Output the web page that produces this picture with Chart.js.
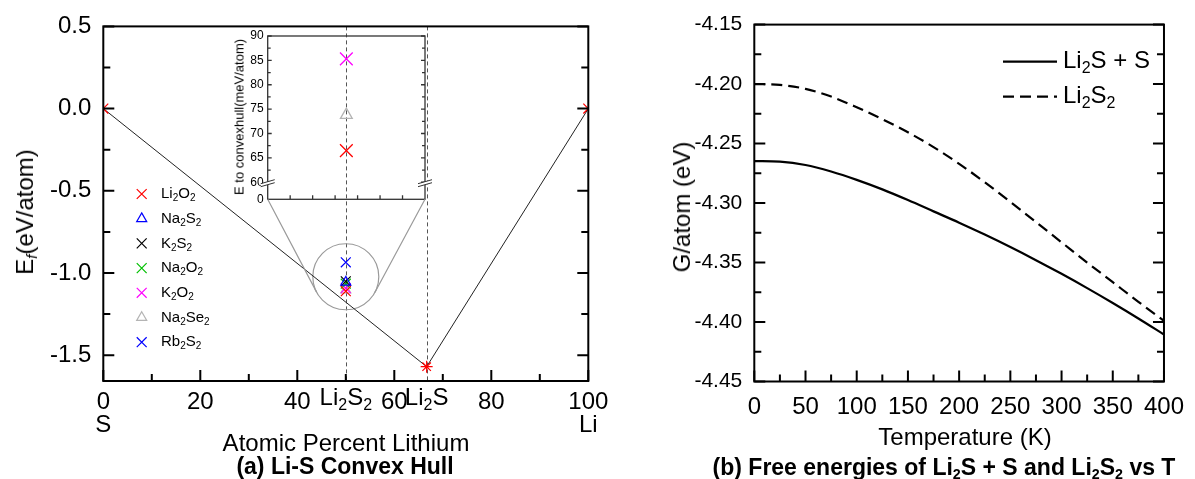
<!DOCTYPE html>
<html>
<head>
<meta charset="utf-8">
<title>Li-S convex hull and free energies</title>
<script src="https://cdn.jsdelivr.net/npm/chart.js@4.4.1/dist/chart.umd.min.js"></script>
<style>
  body { margin: 0; background: #fff; }
  #page { position: relative; width: 1195px; height: 479px; overflow: hidden;
          font-family: "Liberation Sans", Arial, sans-serif; color: #000; }
  canvas { position: absolute; top: 0; }
  .txt { position: absolute; white-space: nowrap; line-height: 1; transform: translate(-50%, -50%); }
  .rot { transform: translate(-50%, -50%) rotate(-90deg); }
  .cap { font-weight: bold; font-size: 23px; }
  sub { font-size: 0.62em; position: relative; top: 0.3em; vertical-align: baseline; line-height: 0; }
</style>
</head>
<body>
<div id="page">
  <canvas id="hull" width="640" height="479" style="left:0"></canvas>
  <canvas id="inset" width="640" height="479" style="left:0"></canvas>
  <canvas id="energy" width="555" height="479" style="left:640px"></canvas>

  <div class="txt rot" style="left:25px;top:212px;font-size:24px">E<sub><i>f</i></sub>(eV/atom)</div>
  <div class="txt" style="left:346px;top:443px;font-size:24px">Atomic Percent Lithium</div>
  <div class="txt cap" style="left:345px;top:466px">(a) Li-S Convex Hull</div>
  <div class="txt rot" style="left:239px;top:117px;font-size:13px">E to convexhull(meV/atom)</div>

  <div class="txt rot" style="left:682px;top:207px;font-size:24px">G/atom (eV)</div>
  <div class="txt" style="left:965px;top:437px;font-size:24px">Temperature (K)</div>
  <div class="txt cap" style="left:944px;top:467px">(b) Free energies of Li<sub>2</sub>S + S and Li<sub>2</sub>S<sub>2</sub> vs T</div>
</div>

<script>
const FONT = '"Liberation Sans", Arial, sans-serif';
Chart.defaults.font.family = FONT;
Chart.defaults.color = '#000';
Chart.defaults.animation = false;

// (a) Li-S convex hull, x = atomic percent Li
const hullX = [0, 66.67, 100];
const hullE = [0, -1.57, 0];            // S, Li2S, Li (eV/atom)
const compoundX = [50, 66.67];
const compoundNames = ['Li2S2', 'Li2S'];
const pctTicks = [0, 20, 40, 60, 80, 100];
const endNames = ['S', 'Li'];

// Li2S2 computed in other prototype structures (x = 50)
const protoNames = ['Li2O2', 'Na2S2', 'K2S2', 'Na2O2', 'K2O2', 'Na2Se2', 'Rb2S2'];
const protoE = [-1.111, -1.056, -1.051, -1.065, -1.0925, -1.104, -0.935];
const protoColor = ['#ff0000', '#0000ff', '#000000', '#00c000', '#ff00ff', '#b4b4b4', '#0000ff'];
const protoShape = ['crossRot', 'triangle', 'crossRot', 'crossRot', 'crossRot', 'triangle', 'crossRot'];

// inset: energy above the hull (meV/atom)
const insetNames = ['Li2O2', 'Na2Se2', 'K2O2'];
const insetMeV = [66.5, 73.8, 85.3];
const insetTicks = [60, 65, 70, 75, 80, 85, 90];

// (b) free energy vs temperature
const temps = [0, 25, 50, 75, 100, 125, 150, 175, 200, 225, 250, 275, 300, 325, 350, 375, 400];
const gLi2S_S = [-4.2647, -4.2652, -4.2680, -4.2735, -4.2805, -4.2885, -4.2975, -4.3070, -4.3165,
                 -4.3265, -4.3370, -4.3480, -4.3595, -4.3715, -4.3840, -4.3970, -4.4105];
const gLi2S2 = [-4.2000, -4.2007, -4.2040, -4.2105, -4.2195, -4.2295, -4.2405, -4.2530, -4.2670,
                -4.2825, -4.2990, -4.3160, -4.3330, -4.3500, -4.3665, -4.3830, -4.3990];

// text with digits drawn as subscripts
function drawChem(ctx, text, x, y, size, align) {
  const parts = text.match(/\d+|\D+/g);
  const sub = Math.round(size * 0.65);
  let w = 0;
  parts.forEach(p => {
    ctx.font = (/\d/.test(p) ? sub : size) + 'px ' + FONT;
    w += ctx.measureText(p).width;
  });
  let cx = align === 'center' ? x - w / 2 : x;
  ctx.textAlign = 'left';
  ctx.textBaseline = 'middle';
  parts.forEach(p => {
    const s = /\d/.test(p);
    ctx.font = (s ? sub : size) + 'px ' + FONT;
    ctx.fillText(p, cx, s ? y + size * 0.3 : y);
    cx += ctx.measureText(p).width;
  });
}

function stepValues(min, max, minor, major) {
  const out = [], ratio = Math.round(major / minor);
  for (let i = Math.ceil(min / minor - 1e-6); i * minor <= max + 1e-6; i++) {
    out.push([i * minor, i % ratio === 0]);
  }
  return out;
}

// frame with inward ticks on left, right and bottom
function boxTicks(cfg) {
  return {
    id: 'boxTicks',
    afterDatasetsDraw(chart) {
      const {ctx, chartArea: a, scales: {x, y}} = chart;
      ctx.save();
      ctx.strokeStyle = '#000';
      ctx.lineWidth = cfg.width;
      ctx.beginPath();
      stepValues(y.min, y.max, cfg.yMinor, cfg.yMajor).forEach(([v, major]) => {
        const p = y.getPixelForValue(v), l = major ? cfg.major : cfg.minor;
        ctx.moveTo(a.left, p); ctx.lineTo(a.left + l, p);
        ctx.moveTo(a.right, p); ctx.lineTo(a.right - l, p);
      });
      stepValues(x.min, x.max, cfg.xMinor, cfg.xMajor).forEach(([v, major]) => {
        const p = x.getPixelForValue(v), l = major ? cfg.major : cfg.minor;
        ctx.moveTo(p, a.bottom); ctx.lineTo(p, a.bottom - l);
      });
      ctx.stroke();
      ctx.strokeRect(a.left, a.top, a.right - a.left, a.bottom - a.top);
      ctx.restore();
    }
  };
}

const noGrid = {display: false, drawTicks: false};

// ---------- (a) main hull chart ----------
const hullDatasets = [];
hullDatasets.push({
  label: 'hull',
  data: hullX.map((x, i) => ({x, y: hullE[i]})),
  showLine: true,
  borderColor: '#222',
  borderWidth: 1,
  pointStyle: ['crossRot', 'star', 'crossRot'],
  pointRadius: [7, 6, 7],
  pointBorderColor: '#ff0000',
  pointBorderWidth: 1.2,
  pointBackgroundColor: 'rgba(0,0,0,0)',
  clip: 0
});
protoNames.forEach((name, i) => {
  hullDatasets.push({
    label: name,
    data: [{x: compoundX[0], y: protoE[i]}],
    pointStyle: protoShape[i],
    pointRadius: protoShape[i] === 'triangle' ? 5.8 : 7,
    pointBorderColor: protoColor[i],
    pointBorderWidth: 1.2,
    pointBackgroundColor: 'rgba(0,0,0,0)'
  });
});
// zoom circle around the Li2S2 cluster
hullDatasets.push({
  label: 'zoom',
  data: [{x: compoundX[0], y: (Math.max(...protoE) + Math.min(...protoE)) / 2}],
  pointStyle: 'circle',
  pointRadius: 33,
  pointBorderColor: '#9a9a9a',
  pointBorderWidth: 1.2,
  pointBackgroundColor: 'rgba(0,0,0,0)'
});

const hullExtras = {
  id: 'hullExtras',
  beforeDatasetsDraw(chart) {
    const {ctx, chartArea: a, scales: {x}} = chart;
    ctx.save();
    ctx.strokeStyle = '#555';
    ctx.lineWidth = 1;
    ctx.setLineDash([4, 3]);
    ctx.beginPath();
    compoundX.forEach(v => {
      const p = Math.round(x.getPixelForValue(v)) + 0.5;
      ctx.moveTo(p, a.top); ctx.lineTo(p, a.bottom);
    });
    ctx.stroke();
    ctx.restore();
  },
  afterDraw(chart) {
    const {ctx, chartArea: a, scales: {x}} = chart;
    ctx.save();
    ctx.fillStyle = '#000';
    compoundNames.forEach((n, i) => drawChem(ctx, n, x.getPixelForValue(compoundX[i]), a.bottom + 17, 24, 'center'));
    // legend
    protoNames.forEach((n, i) => {
      const yy = 194 + i * 24.7;
      ctx.strokeStyle = protoColor[i];
      ctx.fillStyle = 'rgba(0,0,0,0)';
      ctx.lineWidth = 1.2;
      Chart.helpers.drawPoint(ctx, {pointStyle: protoShape[i], radius: protoShape[i] === 'triangle' ? 5.8 : 7,
        borderWidth: 1.2, rotation: 0}, 141.7, yy);
      ctx.fillStyle = '#000';
      drawChem(ctx, n, 161, yy, 15, 'left');
    });
    ctx.restore();
  }
};

const hullChart = new Chart(document.getElementById('hull'), {
  type: 'scatter',
  data: {datasets: hullDatasets},
  options: {
    responsive: false,
    layout: {autoPadding: false, padding: {left: 0, top: 24.5, right: 51.7, bottom: 0}},
    plugins: {legend: {display: false}, tooltip: {enabled: false}},
    scales: {
      x: {
        type: 'linear', min: 0, max: 100,
        grid: noGrid, border: {display: false},
        afterFit: s => { s.height = 98; },
        afterBuildTicks: s => { s.ticks = pctTicks.map(v => ({value: v})); },
        ticks: {
          font: {size: 24, lineHeight: 0.95}, padding: 10, maxRotation: 0, autoSkip: false,
          callback: v => v === pctTicks[0] ? [String(v), endNames[0]]
            : v === pctTicks[pctTicks.length - 1] ? [String(v), endNames[1]] : String(v)
        }
      },
      y: {
        type: 'linear', min: -1.657, max: 0.5,
        grid: noGrid, border: {display: false},
        afterFit: s => { s.width = 103.3; },
        ticks: {font: {size: 24}, padding: 12, stepSize: 0.5, includeBounds: false,
          callback: v => v.toFixed(1)}
      }
    }
  },
  plugins: [hullExtras, boxTicks({width: 2, major: 11, minor: 7, xMajor: 20, xMinor: 10, yMajor: 0.5, yMinor: 0.25})]
});

// ---------- inset ----------
const insetLeft = 267.7, insetRight = 425, insetTop = 36, insetBottom = 199.3;
const insetExtras = {
  id: 'insetExtras',
  afterDraw(chart) {
    const {ctx, chartArea: a, scales: {x, y}} = chart;
    ctx.save();
    ctx.strokeStyle = '#333';
    ctx.lineWidth = 1.3;
    ctx.beginPath();
    stepValues(60, 90, 2.5, 5).forEach(([v, major]) => {
      const p = y.getPixelForValue(v), l = major ? 4 : 3;
      ctx.moveTo(a.left, p); ctx.lineTo(a.left + l, p);
      ctx.moveTo(a.right, p); ctx.lineTo(a.right - l, p);
    });
    for (let i = 1; i < 7; i++) {
      const p = x.getPixelForValue(x.min + i * (x.max - x.min) / 7);
      ctx.moveTo(p, a.bottom); ctx.lineTo(p, a.bottom - 4);
    }
    ctx.stroke();
    ctx.strokeRect(a.left, a.top, a.right - a.left, a.bottom - a.top);
    // axis breaks
    const pb = y.getPixelForValue(59.6);
    [a.left, a.right].forEach(x0 => {
      ctx.fillStyle = '#fff';
      ctx.beginPath();
      ctx.moveTo(x0 - 7, pb + 2.5); ctx.lineTo(x0 + 7, pb - 1.5);
      ctx.lineTo(x0 + 7, pb - 4.5); ctx.lineTo(x0 - 7, pb - 0.5); ctx.closePath();
      ctx.fill();
      ctx.beginPath();
      ctx.moveTo(x0 - 7, pb + 2.5); ctx.lineTo(x0 + 7, pb - 1.5);
      ctx.moveTo(x0 - 7, pb - 0.5); ctx.lineTo(x0 + 7, pb - 4.5);
      ctx.lineWidth = 1;
      ctx.stroke();
    });
    // connectors to the zoom circle
    const circ = hullChart.getDatasetMeta(hullDatasets.length - 1).data[0];
    const r = circ.options.radius;
    ctx.strokeStyle = '#9a9a9a';
    ctx.lineWidth = 1.2;
    ctx.beginPath();
    [[a.left, -1], [a.right, 1]].forEach(([px, side]) => {
      const dx = px - circ.x, dy = a.bottom - circ.y;
      const ang = Math.atan2(dy, dx) + side * Math.acos(r / Math.hypot(dx, dy));
      ctx.moveTo(px, a.bottom);
      ctx.lineTo(circ.x + r * Math.cos(ang), circ.y + r * Math.sin(ang));
    });
    ctx.stroke();
    ctx.restore();
  }
};

new Chart(document.getElementById('inset'), {
  type: 'scatter',
  data: {
    datasets: insetNames.map((n, i) => {
      const k = protoNames.indexOf(n);
      return {
        label: n,
        data: [{x: compoundX[0], y: insetMeV[i]}],
        pointStyle: protoShape[k],
        pointRadius: protoShape[k] === 'triangle' ? 6.8 : 9,
        pointBorderColor: protoColor[k],
        pointBorderWidth: 1.3,
        pointBackgroundColor: 'rgba(0,0,0,0)'
      };
    })
  },
  options: {
    responsive: false,
    layout: {autoPadding: false,
      padding: {left: insetLeft - 40, top: insetTop, right: 640 - insetRight, bottom: 479 - insetBottom}},
    plugins: {legend: {display: false}, tooltip: {enabled: false}},
    scales: {
      x: {type: 'linear', min: 33.8, max: 66.2, display: false},
      y: {
        type: 'linear', min: 56.5, max: 90,
        grid: noGrid, border: {display: false},
        afterFit: s => { s.width = 40; },
        afterBuildTicks: s => { s.ticks = [{value: 56.5}].concat(insetTicks.map(v => ({value: v}))); },
        ticks: {font: {size: 12}, padding: 4, autoSkip: false,
          callback: v => v === 56.5 ? '0' : String(v)}
      }
    }
  },
  plugins: [insetExtras]
});

// ---------- (b) free energies ----------
const energyLegend = {
  id: 'energyLegend',
  afterDraw(chart) {
    const {ctx} = chart;
    ctx.save();
    chart.data.datasets.forEach((ds, i) => {
      const yy = 61.7 + i * 35;
      ctx.strokeStyle = '#000';
      ctx.lineWidth = ds.borderWidth;
      ctx.setLineDash(ds.borderDash || []);
      ctx.beginPath();
      ctx.moveTo(363, yy); ctx.lineTo(417, yy);
      ctx.stroke();
      ctx.setLineDash([]);
      ctx.fillStyle = '#000';
      drawChem(ctx, ds.label, 423, yy, 24, 'left');
    });
    ctx.restore();
  }
};

new Chart(document.getElementById('energy'), {
  type: 'line',
  data: {
    datasets: [
      {label: 'Li2S + S', data: temps.map((t, i) => ({x: t, y: gLi2S_S[i]})),
       borderColor: '#000', borderWidth: 2.2, pointRadius: 0, cubicInterpolationMode: 'monotone'},
      {label: 'Li2S2', data: temps.map((t, i) => ({x: t, y: gLi2S2[i]})),
       borderColor: '#000', borderWidth: 2.2, borderDash: [11, 6], pointRadius: 0, cubicInterpolationMode: 'monotone'}
    ]
  },
  options: {
    responsive: false,
    layout: {autoPadding: false, padding: {left: 0, top: 23, right: 22.3, bottom: 0}},
    plugins: {legend: {display: false}, tooltip: {enabled: false}},
    scales: {
      x: {
        type: 'linear', min: 0, max: 400,
        grid: noGrid, border: {display: false},
        afterFit: s => { s.height = 97.5; },
        ticks: {font: {size: 24}, padding: 11, stepSize: 50, maxRotation: 0, autoSkip: false}
      },
      y: {
        type: 'linear', min: -4.45, max: -4.15,
        grid: noGrid, border: {display: false},
        afterFit: s => { s.width = 114.3; },
        ticks: {font: {size: 21}, padding: 12, stepSize: 0.05, includeBounds: false,
          callback: v => v.toFixed(2)}
      }
    }
  },
  plugins: [energyLegend, boxTicks({width: 2, major: 11, minor: 7, xMajor: 50, xMinor: 25, yMajor: 0.05, yMinor: 0.025})]
});
</script>
</body>
</html>
